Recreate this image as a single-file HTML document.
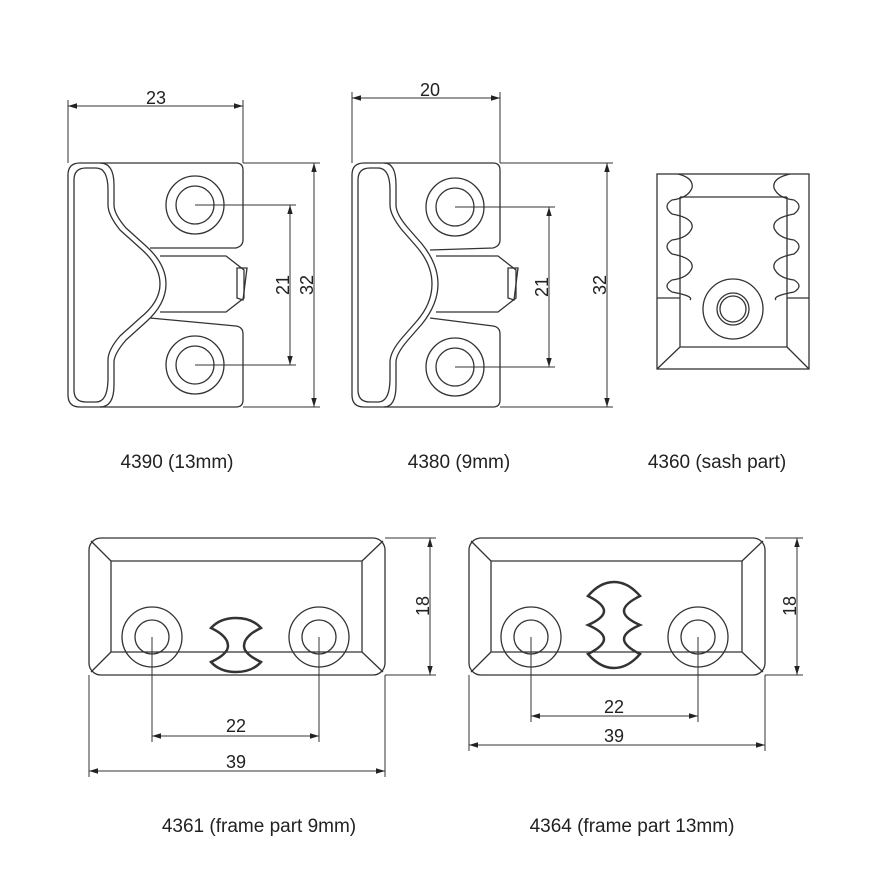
<!DOCTYPE html>
<html><head><style>body{margin:0;background:#fff}svg{display:block}text{font-family:"Liberation Sans",sans-serif;fill:#222}</style></head><body>
<svg width="880" height="880" viewBox="0 0 880 880" xmlns="http://www.w3.org/2000/svg">
<defs>
<marker id="a" viewBox="0 0 10 10" refX="10" refY="5" markerWidth="9" markerHeight="9" orient="auto-start-reverse"><path d="M0,2 L10,5 L0,8 z" fill="#222"/></marker>
</defs>
<g fill="none" stroke="#333" stroke-width="1.3">
<!-- 4390 -->
<path d="M80,163 H236 Q243,163 243,170 V240 Q243,246 236,248 L150,248"/>
<path d="M150,318 L236,326 Q243,327 243,334 V400 Q243,407 236,407 H80"/>
<path d="M80,163 Q68,163 68,175 V395 Q68,407 80,407"/>
<path d="M86,168 H96 Q108,168 108,190 V205 Q108,215 120,230 L140,248 Q160,265 160,284 Q160,302 140,318 L120,336 Q108,350 108,360 V378 Q108,402 96,402 H86 Q74,402 74,390 V180 Q74,168 86,168Z"/>
<path d="M100,163 Q114,163 114,185 V205 Q114,214 126,228 L146,246 Q166,264 166,284 Q166,304 146,322 L126,340 Q114,354 114,362 V385 Q114,407 100,407"/>
<path d="M160,256 H226 L244,270 V298 L226,312 H160"/>
<path d="M237,268 L247,268 L243,300 L237,298Z"/>
<circle cx="195" cy="205" r="29"/><circle cx="195" cy="205" r="19"/>
<circle cx="195" cy="365" r="29"/><circle cx="195" cy="365" r="19"/>
<!-- 4380 -->
<path d="M364,163 H493 Q500,163 500,170 V240 Q500,246 493,248 L430,250"/>
<path d="M430,318 L493,326 Q500,327 500,334 V400 Q500,407 493,407 H364"/>
<path d="M364,163 Q352,163 352,175 V395 Q352,407 364,407"/>
<path d="M370,168 H378 Q390,168 390,190 V205 Q390,215 402,230 L416,246 Q432,264 432,284 Q432,304 416,322 L402,338 Q390,352 390,362 V378 Q390,402 378,402 H370 Q358,402 358,390 V180 Q358,168 370,168Z"/>
<path d="M384,163 Q396,163 396,185 V205 Q396,214 408,228 L422,244 Q438,264 438,284 Q438,304 422,324 L408,340 Q396,354 396,362 V385 Q396,407 384,407"/>
<path d="M436,256 H498 L516,270 V298 L498,312 H436"/>
<path d="M508,268 L518,268 L514,300 L508,298Z"/>
<circle cx="455" cy="207" r="29"/><circle cx="455" cy="207" r="19"/>
<circle cx="455" cy="367" r="29"/><circle cx="455" cy="367" r="19"/>
<!-- 4360 -->
<rect x="657" y="174" width="152" height="195"/>
<path d="M680,197 H787 M680,197 V347 H787 V197 M657,369 L680,347 M809,369 L787,347 M657,298 H680 M787,298 H809"/>
<path d="M678,174 Q694,178 692,188 Q688,198 672,200 Q662,206 672,214 Q694,218 692,228 Q688,238 672,240 Q662,246 672,254 Q694,258 692,268 Q688,278 672,280 Q662,286 672,292 Q694,296 690,300"/>
<path d="M790,174 Q772,178 774,188 Q778,198 794,200 Q804,206 794,214 Q772,218 774,228 Q778,238 794,240 Q804,246 794,254 Q772,258 774,268 Q778,278 794,280 Q804,286 794,292 Q772,296 776,300"/>
<circle cx="733" cy="309" r="30"/><circle cx="733" cy="309" r="16"/><circle cx="733" cy="309" r="13"/>
<!-- 4361 -->
<rect x="89" y="538" width="296" height="137" rx="12"/>
<path d="M111,561 H362 V652 H111Z M91,541 L111,561 M383,541 L362,561 M91,672 L111,652 M383,672 L362,652"/>
<circle cx="152" cy="637" r="30"/><circle cx="152" cy="637" r="17"/>
<circle cx="319" cy="637" r="30"/><circle cx="319" cy="637" r="17"/>
<path stroke-width="2.5" d="M211,628 Q220,618 236,618 Q252,618 261,628 Q244,636 244,646 Q244,654 261,662 Q252,672 236,672 Q220,672 211,662 Q228,654 228,646 Q228,636 211,628Z"/>
<!-- 4364 -->
<rect x="469" y="538" width="296" height="137" rx="12"/>
<path d="M491,561 H742 V652 H491Z M471,541 L491,561 M763,541 L742,561 M471,672 L491,652 M763,672 L742,652"/>
<circle cx="531" cy="637" r="30"/><circle cx="531" cy="637" r="17"/>
<circle cx="698" cy="637" r="30"/><circle cx="698" cy="637" r="17"/>
<path stroke-width="2.5" d="M588,596 Q600,582 614,582 Q628,582 640,596 Q624,604 624,611 Q624,618 640,625 Q624,632 624,639 Q624,646 640,654 Q628,668 614,668 Q600,668 588,654 Q604,646 604,639 Q604,632 588,625 Q604,618 604,611 Q604,604 588,596Z"/>
</g>
<g fill="none" stroke="#333" stroke-width="1">
<path d="M68,163 V100 M243,163 V100 M243,163 H320 M243,407 H320 M195,205 H296 M195,365 H296"/>
<path d="M352,163 V92 M500,163 V92 M500,163 H613 M500,407 H613 M455,207 H555 M455,367 H555"/>
<path d="M385,538 H436 M385,675 H436 M152,637 V742 M319,637 V742 M89,675 V777 M385,675 V777"/>
<path d="M765,538 H803 M765,675 H803 M531,637 V722 M698,637 V722 M469,675 V751 M765,675 V751"/>
<g marker-start="url(#a)" marker-end="url(#a)">
<path d="M68,106 H243"/><path d="M314,163 V407"/><path d="M290,205 V365"/>
<path d="M352,98 H500"/><path d="M607,163 V407"/><path d="M549,207 V367"/>
<path d="M430,538 V675"/><path d="M152,736 H319"/><path d="M89,771 H385"/>
<path d="M797,538 V675"/><path d="M531,716 H698"/><path d="M469,745 H765"/>
</g>
</g>
<g font-size="18" text-anchor="middle">
<text x="156" y="104">23</text>
<text x="430" y="96">20</text>
<text transform="translate(289,285) rotate(-90)">21</text>
<text transform="translate(313,285) rotate(-90)">32</text>
<text transform="translate(548,287) rotate(-90)">21</text>
<text transform="translate(606,285) rotate(-90)">32</text>
<text transform="translate(429,606) rotate(-90)">18</text>
<text transform="translate(796,606) rotate(-90)">18</text>
<text x="236" y="732">22</text>
<text x="236" y="768">39</text>
<text x="614" y="713">22</text>
<text x="614" y="742">39</text>
</g>
<g font-size="19" text-anchor="middle">
<text x="177" y="468">4390 (13mm)</text>
<text x="459" y="468">4380 (9mm)</text>
<text x="717" y="468">4360 (sash part)</text>
<text x="259" y="832">4361 (frame part 9mm)</text>
<text x="632" y="832">4364 (frame part 13mm)</text>
</g>
</svg>
</body></html>
